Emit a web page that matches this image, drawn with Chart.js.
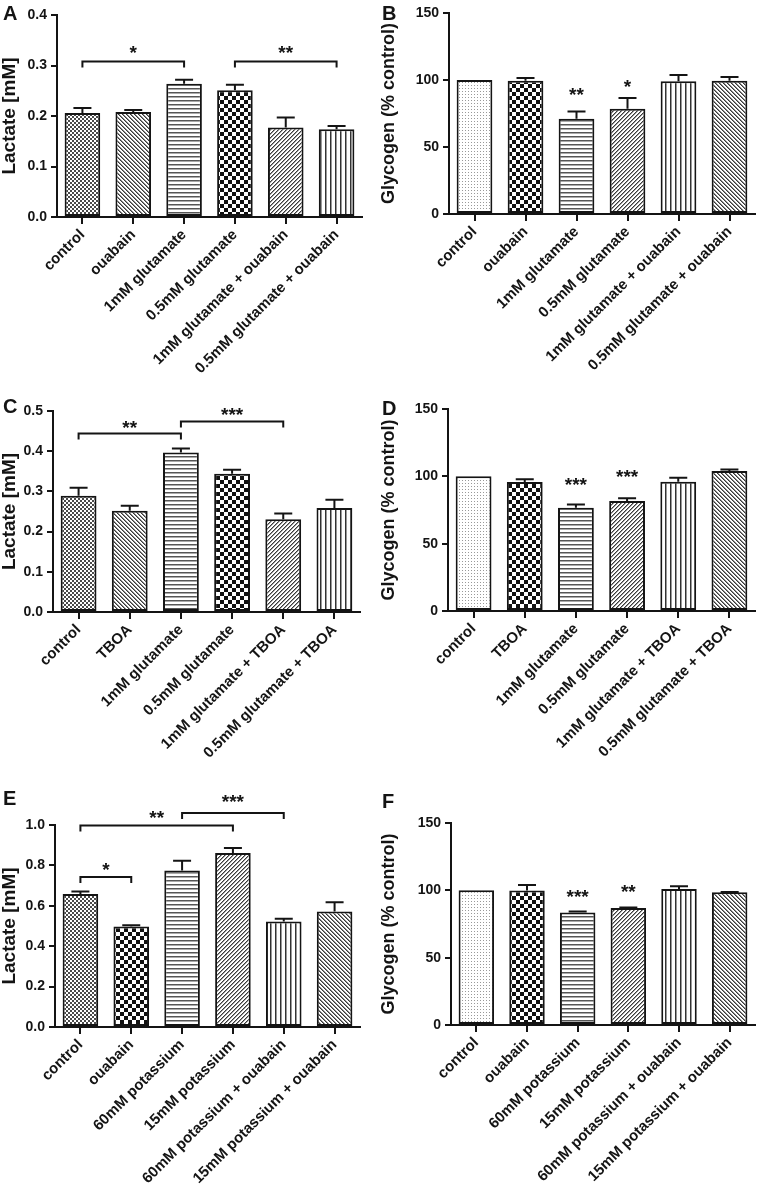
<!DOCTYPE html>
<html><head><meta charset="utf-8">
<script src="https://cdn.jsdelivr.net/npm/chart.js@4.4.0/dist/chart.umd.min.js"></script>
<style>
html,body{margin:0;padding:0;background:#fff;}
#wrap{position:relative;width:758px;height:1190px;overflow:hidden;background:#fff;}
canvas{position:absolute;}
</style></head><body><div id="wrap">
<canvas id="cA" width="379" height="380" style="left:0px;top:0px"></canvas>
<canvas id="cB" width="378" height="380" style="left:380px;top:0px"></canvas>
<canvas id="cC" width="379" height="400" style="left:0px;top:380px"></canvas>
<canvas id="cD" width="378" height="400" style="left:380px;top:380px"></canvas>
<canvas id="cE" width="379" height="410" style="left:0px;top:780px"></canvas>
<canvas id="cF" width="378" height="410" style="left:380px;top:780px"></canvas>
</div>
<script>
// ---------- DATA ----------
const catsGlu  = ['control','ouabain','1mM glutamate','0.5mM glutamate','1mM glutamate + ouabain','0.5mM glutamate + ouabain'];
const catsTboa = ['control','TBOA','1mM glutamate','0.5mM glutamate','1mM glutamate + TBOA','0.5mM glutamate + TBOA'];
const catsK    = ['control','ouabain','60mM potassium','15mM potassium','60mM potassium + ouabain','15mM potassium + ouabain'];

const lactateA = [0.206, 0.208, 0.264, 0.251, 0.177, 0.174];
const semA     = [0.010, 0.004, 0.008, 0.011, 0.020, 0.006];
const glycogenB = [100, 99.5, 71, 78.5, 99, 99.5];
const semB      = [0, 2, 5.5, 8, 4.7, 2.8];
const lactateC = [0.289, 0.252, 0.397, 0.344, 0.231, 0.259];
const semC     = [0.020, 0.012, 0.010, 0.010, 0.014, 0.020];
const glycogenD = [100, 95.8, 76.7, 81.7, 96, 104];
const semD      = [0, 2, 2.3, 2, 3, 1];
const lactateE = [0.658, 0.498, 0.775, 0.861, 0.522, 0.572];
const semE     = [0.013, 0.006, 0.048, 0.025, 0.014, 0.046];
const glycogenF = [100, 99.8, 83.6, 86.8, 101, 98.5];
const semF      = [0, 4.2, 0.7, 0.5, 2, 0.3];

const ticksA = [0, 0.1, 0.2, 0.3, 0.4];
const ticksC = [0, 0.1, 0.2, 0.3, 0.4, 0.5];
const ticksE = [0, 0.2, 0.4, 0.6, 0.8, 1.0];
const ticksGly = [0, 50, 100, 150];

// significance brackets: from category, to category, bracket value, label value, label
const bracketsA = [[0, 2, 0.308, 0.334, '*'], [3, 5, 0.308, 0.334, '**']];
const bracketsC = [[0, 2, 0.444, 0.471, '**'], [2, 4, 0.474, 0.503, '***']];
const bracketsE = [[0, 1, 0.742, 0.800, '*'], [0, 3, 0.997, 1.060, '**'], [2, 4, 1.060, 1.140, '***']];
// single stars: category, label value, label
const starsB = [[2, 92.6, '**'], [3, 98.8, '*']];
const starsD = [[2, 97.3, '***'], [3, 103.4, '***']];
const starsF = [[2, 99.0, '***'], [3, 102.7, '**']];

// ---------- STYLE ----------
const FONT = "'Liberation Sans', Arial, Helvetica, sans-serif";
const INK = '#141414';
const STAR = 19;
const tctx = document.createElement('canvas').getContext('2d');
function pat(w, h, draw) {
  const c = document.createElement('canvas'); c.width = w; c.height = h;
  const x = c.getContext('2d'); x.fillStyle = '#fff'; x.fillRect(0, 0, w, h); draw(x);
  return tctx.createPattern(c, 'repeat');
}
const P = {
  fineCheck: pat(4, 4, x => { x.fillStyle = '#4a4a4a'; x.fillRect(0,0,2,2); x.fillRect(2,2,2,2); }),
  backDiag: pat(4, 4, x => { for (let i=0;i<4;i++){ x.fillStyle='#3a3a3a'; x.fillRect(i,i,1,1); x.fillStyle='#8a8a8a'; x.fillRect((i+1)%4,i,1,1);} }),
  fwdDiag: pat(4, 4, x => { for (let i=0;i<4;i++){ const c=3-i; x.fillStyle='#3a3a3a'; x.fillRect(c,i,1,1); x.fillStyle='#9a9a9a'; x.fillRect((c+1)%4,i,1,1);} }),
  horiz: pat(1, 4, x => { x.fillStyle='#555'; x.fillRect(0,0,1,1); x.fillStyle='#aaa'; x.fillRect(0,1,1,1); }),
  vert: pat(5, 1, x => { x.fillStyle='#333'; x.fillRect(0,0,1,1); x.fillStyle='#999'; x.fillRect(1,0,1,1); }),
  bigCheck: pat(8, 8, x => { x.fillStyle='#111'; x.fillRect(0,0,4,4); x.fillRect(4,4,4,4); }),
  dots: pat(3, 3, x => { x.fillStyle='#999'; x.fillRect(1,1,1,1); })
};
const patsLac = [P.fineCheck, P.backDiag, P.horiz, P.bigCheck, P.fwdDiag, P.vert];
const patsGly = [P.dots, P.bigCheck, P.horiz, P.fwdDiag, P.vert, P.backDiag];
const patsE   = [P.fineCheck, P.bigCheck, P.horiz, P.fwdDiag, P.vert, P.backDiag];

const annot = {
  id: 'annot',
  afterDatasetsDraw(chart, args, o) {
    const ctx = chart.ctx, xs = chart.scales.x, ys = chart.scales.y;
    ctx.save();
    ctx.strokeStyle = INK; ctx.fillStyle = INK; ctx.lineWidth = 2;
    o.values.forEach((v, i) => {
      const e = o.sem[i]; if (!e) return;
      const px = xs.getPixelForValue(i), y0 = ys.getPixelForValue(v), y1 = ys.getPixelForValue(v + e);
      ctx.beginPath(); ctx.moveTo(px, y0); ctx.lineTo(px, y1);
      ctx.moveTo(px - 9, y1); ctx.lineTo(px + 9, y1); ctx.stroke();
    });
    ctx.font = `bold ${STAR}px ${FONT}`; ctx.textAlign = 'center'; ctx.textBaseline = 'alphabetic';
    const off = STAR * 0.58;
    (o.brackets || []).forEach(([a, b, by, ly, lab]) => {
      const xa = xs.getPixelForValue(a), xb = xs.getPixelForValue(b), yy = ys.getPixelForValue(by);
      ctx.beginPath(); ctx.moveTo(xa, yy + 6); ctx.lineTo(xa, yy); ctx.lineTo(xb, yy); ctx.lineTo(xb, yy + 6); ctx.stroke();
      ctx.fillText(lab, (xa + xb) / 2, ys.getPixelForValue(ly) + off);
    });
    (o.stars || []).forEach(([i, ly, lab]) => {
      ctx.fillText(lab, xs.getPixelForValue(i), ys.getPixelForValue(ly) + off);
    });
    ctx.font = `bold 20px ${FONT}`; ctx.textAlign = 'left';
    ctx.fillText(o.letter, o.lx, o.ly);
    ctx.restore();
  }
};

function build(id, cats, vals, sem, pats, ymax, yticks, dec, ytitle, titleSize, g, extra) {
  new Chart(document.getElementById(id), {
    type: 'bar',
    data: { labels: cats, datasets: [{ data: vals, backgroundColor: pats, borderColor: INK, borderWidth: 2,
      borderSkipped: false, barPercentage: 0.7, categoryPercentage: 1 }] },
    options: {
      responsive: false, animation: false, devicePixelRatio: 1,
      layout: { padding: { top: g.top, right: g.right, left: 0, bottom: 0 } },
      plugins: { legend: { display: false }, tooltip: { enabled: false },
        annot: Object.assign({ values: vals, sem: sem }, extra) },
      scales: {
        x: {
          grid: { offset: false, drawOnChartArea: false, drawTicks: true, tickLength: 7, lineWidth: 2, color: INK },
          border: { display: true, color: INK, width: 2 },
          ticks: { autoSkip: false, maxRotation: 45, minRotation: 45, padding: 2, color: INK,
            font: { family: FONT, size: 15, weight: 'bold' } },
          afterFit: s => { s.height = g.xh; }
        },
        y: {
          min: 0, max: ymax,
          afterBuildTicks: s => { s.ticks = yticks.map(v => ({ value: v })); },
          grid: { drawOnChartArea: false, drawTicks: true, tickLength: 6, lineWidth: 2, color: INK },
          border: { display: true, color: INK, width: 2 },
          ticks: { padding: 4, color: INK, font: { family: FONT, size: 14, weight: 'bold' },
            callback: v => Number(v).toFixed(dec) },
          title: { display: true, text: ytitle, color: INK, padding: { top: 0, bottom: 0 },
            font: { family: FONT, size: titleSize, weight: 'bold', lineHeight: 1 } },
          afterFit: s => { s.width = g.yw; }
        }
      }
    },
    plugins: [annot]
  });
}

build('cA', catsGlu, lactateA, semA, patsLac, 0.4, ticksA, 1, 'Lactate [mM]', 19,
  { top: 15, right: 17, xh: 163, yw: 57 }, { brackets: bracketsA, letter: 'A', lx: 3, ly: 20 });
build('cB', catsGlu, glycogenB, semB, patsGly, 150, ticksGly, 0, 'Glycogen (% control)', 18,
  { top: 13, right: 3, xh: 166, yw: 69 }, { stars: starsB, letter: 'B', lx: 2, ly: 20 });
build('cC', catsTboa, lactateC, semC, patsLac, 0.5, ticksC, 1, 'Lactate [mM]', 19,
  { top: 31, right: 19, xh: 168, yw: 53 }, { brackets: bracketsC, letter: 'C', lx: 3, ly: 33 });
build('cD', catsTboa, glycogenD, semD, patsGly, 150, ticksGly, 0, 'Glycogen (% control)', 18,
  { top: 29, right: 3, xh: 169, yw: 68 }, { stars: starsD, letter: 'D', lx: 2, ly: 35 });
build('cE', catsK, lactateE, semE, patsE, 1.0, ticksE, 1, 'Lactate [mM]', 19,
  { top: 45, right: 19, xh: 163, yw: 55 }, { brackets: bracketsE, letter: 'E', lx: 3, ly: 25 });
build('cF', catsK, glycogenF, semF, patsGly, 150, ticksGly, 0, 'Glycogen (% control)', 18,
  { top: 43, right: 3, xh: 165, yw: 71 }, { stars: starsF, letter: 'F', lx: 2, ly: 28 });
</script>
</body></html>
